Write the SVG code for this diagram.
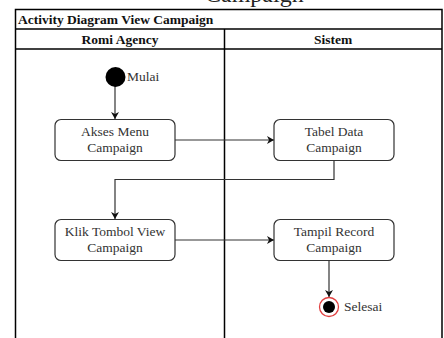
<svg xmlns="http://www.w3.org/2000/svg" width="444" height="338" viewBox="0 0 444 338">
<defs>
<marker id="arr" markerWidth="8" markerHeight="8" refX="7" refY="4" orient="auto" markerUnits="userSpaceOnUse">
<path d="M0,0 L7,4 L0,8 L2,4 Z" fill="#111"/>
</marker>
<style>
.frame{fill:none;stroke:#000;stroke-width:1.5}
.box{fill:#fff;stroke:#333;stroke-width:1.2}
.t{font-family:"Liberation Serif","Times New Roman",serif;font-size:13.5px;fill:#333;text-anchor:middle}
.h{font-family:"Liberation Serif","Times New Roman",serif;font-size:13.5px;font-weight:bold;fill:#111}
.l{font-family:"Liberation Serif","Times New Roman",serif;font-size:13.5px;fill:#333}
.c{fill:none;stroke:#333;stroke-width:1.2}
</style>
</defs>
<rect width="444" height="338" fill="#fff"/>
<text x="205" y="1.5" font-family="Liberation Serif, serif" font-size="24" fill="#222">Campaign</text>
<g id="frame">
<path class="frame" d="M15.5 338 V9.5 H442 V338"/>
<line class="frame" x1="15.5" y1="29" x2="442" y2="29"/>
<line class="frame" x1="15.5" y1="49" x2="442" y2="49"/>
<line class="frame" x1="224.5" y1="29" x2="224.5" y2="338"/>
<text class="h" x="18" y="24">Activity Diagram View Campaign</text>
<text class="h" x="120" y="44" text-anchor="middle">Romi Agency</text>
<text class="h" x="333" y="44" text-anchor="middle">Sistem</text>
</g>
<g id="connectors">
<line class="c" x1="115" y1="86" x2="115" y2="119" marker-end="url(#arr)"/>
<line class="c" x1="175" y1="140" x2="274" y2="140" marker-end="url(#arr)"/>
<path class="c" d="M334 160 V179.5 H115 V219" marker-end="url(#arr)"/>
<line class="c" x1="175" y1="240" x2="274" y2="240" marker-end="url(#arr)"/>
<line class="c" x1="329" y1="261" x2="329" y2="297" marker-end="url(#arr)"/>
</g>
<g id="start">
<circle cx="115.5" cy="77" r="10" fill="#000"/>
<text class="l" x="127" y="81">Mulai</text>
</g>
<g id="akses">
<rect class="box" x="55" y="119.5" width="120" height="41" rx="6"/>
<text class="t" x="115" y="136">Akses Menu</text>
<text class="t" x="115" y="152">Campaign</text>
</g>
<g id="tabel">
<rect class="box" x="274" y="119.5" width="120" height="41" rx="6"/>
<text class="t" x="334" y="136">Tabel Data</text>
<text class="t" x="334" y="152">Campaign</text>
</g>
<g id="klik">
<rect class="box" x="55" y="219.5" width="120" height="41" rx="6"/>
<text class="t" x="115" y="236">Klik Tombol View</text>
<text class="t" x="115" y="252">Campaign</text>
</g>
<g id="tampil">
<rect class="box" x="274" y="219.5" width="120" height="41" rx="6"/>
<text class="t" x="334" y="236">Tampil Record</text>
<text class="t" x="334" y="252">Campaign</text>
</g>
<g id="end">
<circle cx="329" cy="307" r="9.5" fill="#fff" stroke="#e04040" stroke-width="1.3"/>
<circle cx="329" cy="307" r="6" fill="#000"/>
<text class="l" x="344" y="311">Selesai</text>
</g>
</svg>
